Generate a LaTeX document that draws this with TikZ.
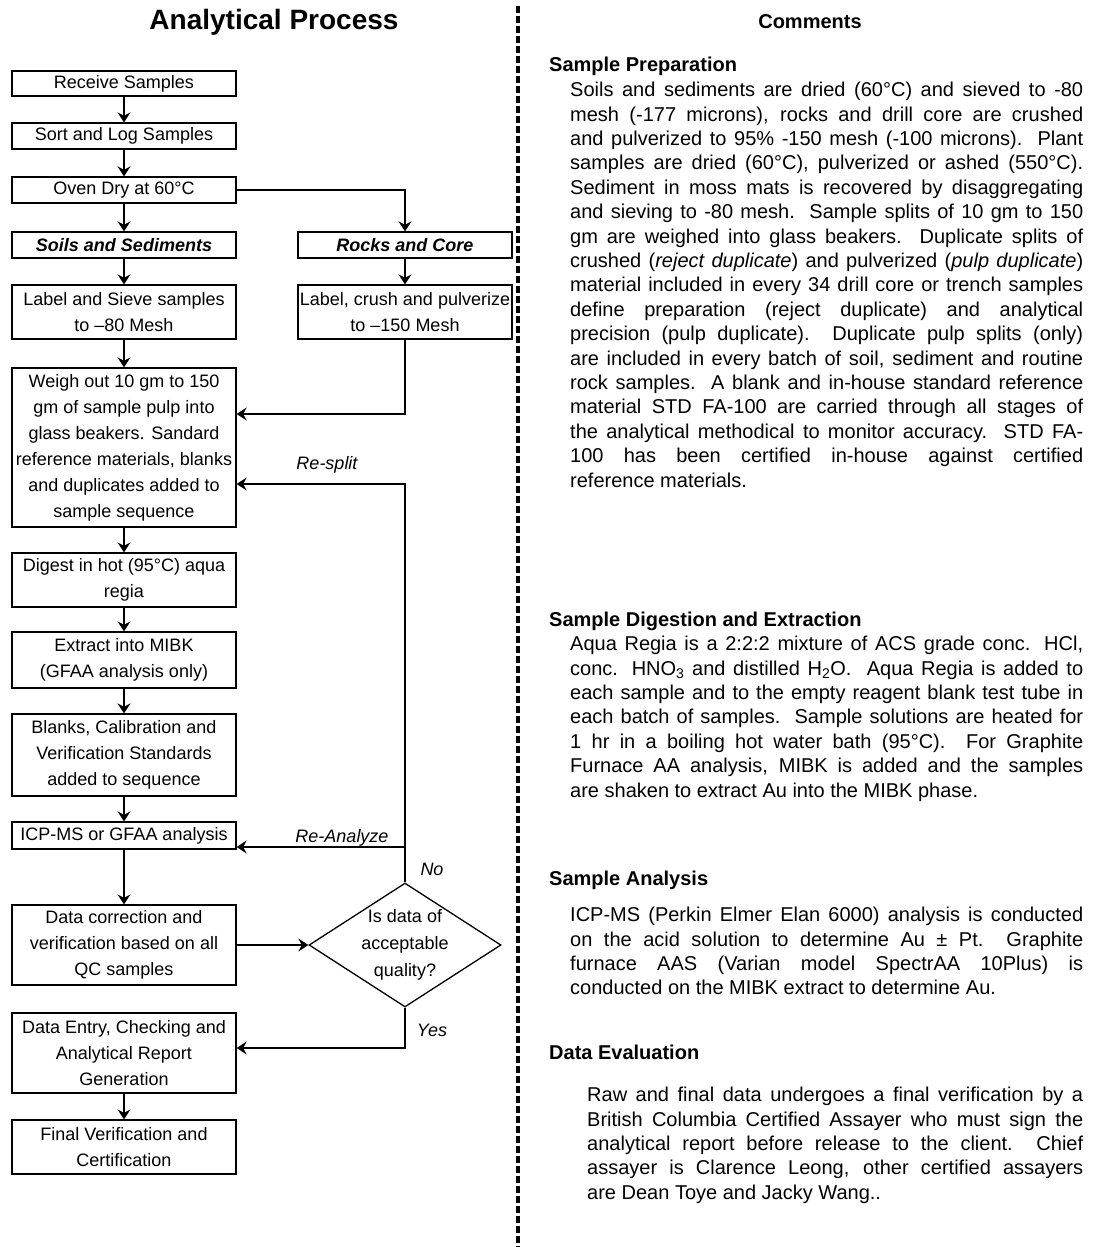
\documentclass[tikz,border=0pt]{standalone}
\usepackage{fontspec}
\setmainfont{Liberation Sans}
\usetikzlibrary{arrows.meta,shapes.geometric,calc}
\begin{document}
\begin{tikzpicture}[x=1pt,y=-1pt,
  box/.style={draw,line width=1.3pt,inner sep=0pt,minimum width=224pt,align=center,font=\fontsize{18}{26}\selectfont},
  rbox/.style={box,minimum width=214pt},
  arr/.style={line width=1.3pt,-{Stealth[length=10pt,width=13pt,inset=3.5pt]}},
  lab/.style={font=\fontsize{18}{22}\selectfont\itshape,inner sep=0pt},
  head/.style={font=\fontsize{20}{24}\selectfont\bfseries,inner sep=0pt,anchor=west},
  body/.style={font=\fontsize{20}{24.4}\selectfont,inner sep=0pt,anchor=north west,align=justify}
]
\useasboundingbox (0,0) rectangle (1096,1247);
\fill[white] (0,0) rectangle (1096,1247);

% title
\node[font=\fontsize{28}{32}\selectfont\bfseries,inner sep=0pt] (title) at (274,22) {Analytical Process};

% left column
\node[box,minimum height=25pt] (recv) at (124,83.5) {Receive Samples};
\node[box,minimum height=26pt] (sort) at (124,136) {Sort and Log Samples};
\node[box,minimum height=26pt] (oven) at (124,190) {Oven Dry at 60°C};
\node[box,minimum height=26pt,font=\fontsize{18}{26}\selectfont\bfseries\itshape] (soils) at (124,245) {Soils and Sediments};
\node[box,minimum height=54pt] (sieve) at (124,312) {Label and Sieve samples\\to –80 Mesh};
\node[box,minimum height=159pt] (weigh) at (124,447.5) {Weigh out 10 gm to 150\\gm of sample pulp into\\glass beakers. Sandard\\reference materials, blanks\\and duplicates added to\\sample sequence};
\node[box,minimum height=54pt] (digest) at (124,580) {Digest in hot (95°C) aqua\\regia};
\node[box,minimum height=56pt] (extract) at (124,660) {Extract into MIBK\\(GFAA analysis only)};
\node[box,minimum height=82pt] (blanks) at (124,755) {Blanks, Calibration and\\Verification Standards\\added to sequence};
\node[box,minimum height=27pt] (icp) at (124,835.5) {ICP-MS or GFAA analysis};
\node[box,minimum height=80pt] (dcorr) at (124,945) {Data correction and\\verification based on all\\QC samples};
\node[box,minimum height=80pt] (dentry) at (124,1053) {Data Entry, Checking and\\Analytical Report\\Generation};
\node[box,minimum height=54pt] (final) at (124,1147) {Final Verification and\\Certification};

% right branch
\node[rbox,minimum height=26pt,font=\fontsize{18}{26}\selectfont\bfseries\itshape] (rocks) at (405,245) {Rocks and Core};
\node[rbox,minimum height=54pt] (crush) at (405,312) {Label, crush and pulverize\\to –150 Mesh};

% decision
\node[diamond,draw,line width=1.3pt,minimum width=192pt,minimum height=124pt,inner sep=0pt] (dia) at (405,945) {};
\node[align=center,inner sep=0pt,font=\fontsize{18}{27}\selectfont] (diatxt) at (dia.center) {Is data of\\acceptable\\quality?};

% connectors
\draw[arr] (recv) -- (sort);
\draw[arr] (sort) -- (oven);
\draw[arr] (oven) -- (soils);
\draw[arr] (soils) -- (sieve);
\draw[arr] (sieve) -- (weigh);
\draw[arr] (weigh) -- (digest);
\draw[arr] (digest) -- (extract);
\draw[arr] (extract) -- (blanks);
\draw[arr] (blanks) -- (icp);
\draw[arr] (icp) -- (dcorr);
\draw[arr] (dentry) -- (final);
\draw[arr] (oven.east) -| (rocks.north);
\draw[arr] (rocks) -- (crush);
\draw[arr] (crush.south) |- ([yshift=33.5pt]weigh.east);
\draw[arr] (dia.north) |- ([yshift=-36.5pt]weigh.east);
\coordinate (icpin) at ([yshift=-11.5pt]icp.east);
\draw[arr] (dia.north |- icpin) -- (icpin);
\draw[arr] (dcorr.east) -- (dia.west);
\draw[arr] (dia.south) |- ([yshift=5pt]dentry.east);

% connector labels
\node[lab] (lresplit) at (327,465) {Re-split};
\node[lab] (lreana) at (342,838) {Re-Analyze};
\node[lab] (lno) at (432,869) {No};
\node[lab] (lyes) at (432,1030) {Yes};

% separator
\draw[line width=3.5pt,dash pattern=on 7pt off 3pt] (518,6) -- (518,1247);

% comments column
\node[font=\fontsize{20}{24}\selectfont\bfseries,inner sep=0pt] (comments) at (810,22) {Comments};

\node[head] (hprep) at (549,66) {Sample Preparation};
\node[body,text width=513pt] (tprep) at (570,82) {\hyphenpenalty=10000\tolerance=10000
Soils and sediments are dried (60°C) and sieved to -80\linebreak
mesh (-177 microns), rocks and drill core are crushed\linebreak
and pulverized to 95\% -150 mesh (-100 microns).\ \ Plant\linebreak
samples are dried (60°C), pulverized or ashed (550°C).\linebreak
Sediment in moss mats is recovered by disaggregating\linebreak
and sieving to -80 mesh.\ \ Sample splits of 10 gm to 150\linebreak
gm are weighed into glass beakers.\ \ Duplicate splits of\linebreak
crushed (\textit{reject duplicate}) and pulverized (\textit{pulp duplicate})\linebreak
material included in every 34 drill core or trench samples\linebreak
define preparation (reject duplicate) and analytical\linebreak
precision (pulp duplicate).\ \ Duplicate pulp splits (only)\linebreak
are included in every batch of soil, sediment and routine\linebreak
rock samples.\ \ A blank and in-house standard reference\linebreak
material STD FA-100 are carried through all stages of\linebreak
the analytical methodical to monitor accuracy.\ \ STD FA-\linebreak
100 has been certified in-house against certified\linebreak
reference materials.};

\node[head] (hdig) at (549,621) {Sample Digestion and Extraction};
\node[body,text width=513pt] (tdig) at (570,636) {\hyphenpenalty=10000\tolerance=10000
Aqua Regia is a 2:2:2 mixture of ACS grade conc. HCl,\linebreak
conc. HNO\textsubscript{3} and distilled H\textsubscript{2}O.\ \ Aqua Regia is added to\linebreak
each sample and to the empty reagent blank test tube in\linebreak
each batch of samples.\ \ Sample solutions are heated for\linebreak
1 hr in a boiling hot water bath (95°C).\ \ For Graphite\linebreak
Furnace AA analysis, MIBK is added and the samples\linebreak
are shaken to extract Au into the MIBK phase.};

\node[head] (hana) at (549,880) {Sample Analysis};
\node[body,text width=513pt] (tana) at (570,907) {\hyphenpenalty=10000\tolerance=10000
ICP-MS (Perkin Elmer Elan 6000) analysis is conducted\linebreak
on the acid solution to determine Au ± Pt.\ \ Graphite\linebreak
furnace AAS (Varian model SpectrAA 10Plus) is\linebreak
conducted on the MIBK extract to determine Au.};

\node[head] (heval) at (549,1052) {Data Evaluation};
\node[body,text width=496pt] (teval) at (587,1087) {\hyphenpenalty=10000\tolerance=10000
Raw and final data undergoes a final verification by a\linebreak
British Columbia Certified Assayer who must sign the\linebreak
analytical report before release to the client.\ \ Chief\linebreak
assayer is Clarence Leong, other certified assayers\linebreak
are Dean Toye and Jacky Wang..};
\end{tikzpicture}
\end{document}
